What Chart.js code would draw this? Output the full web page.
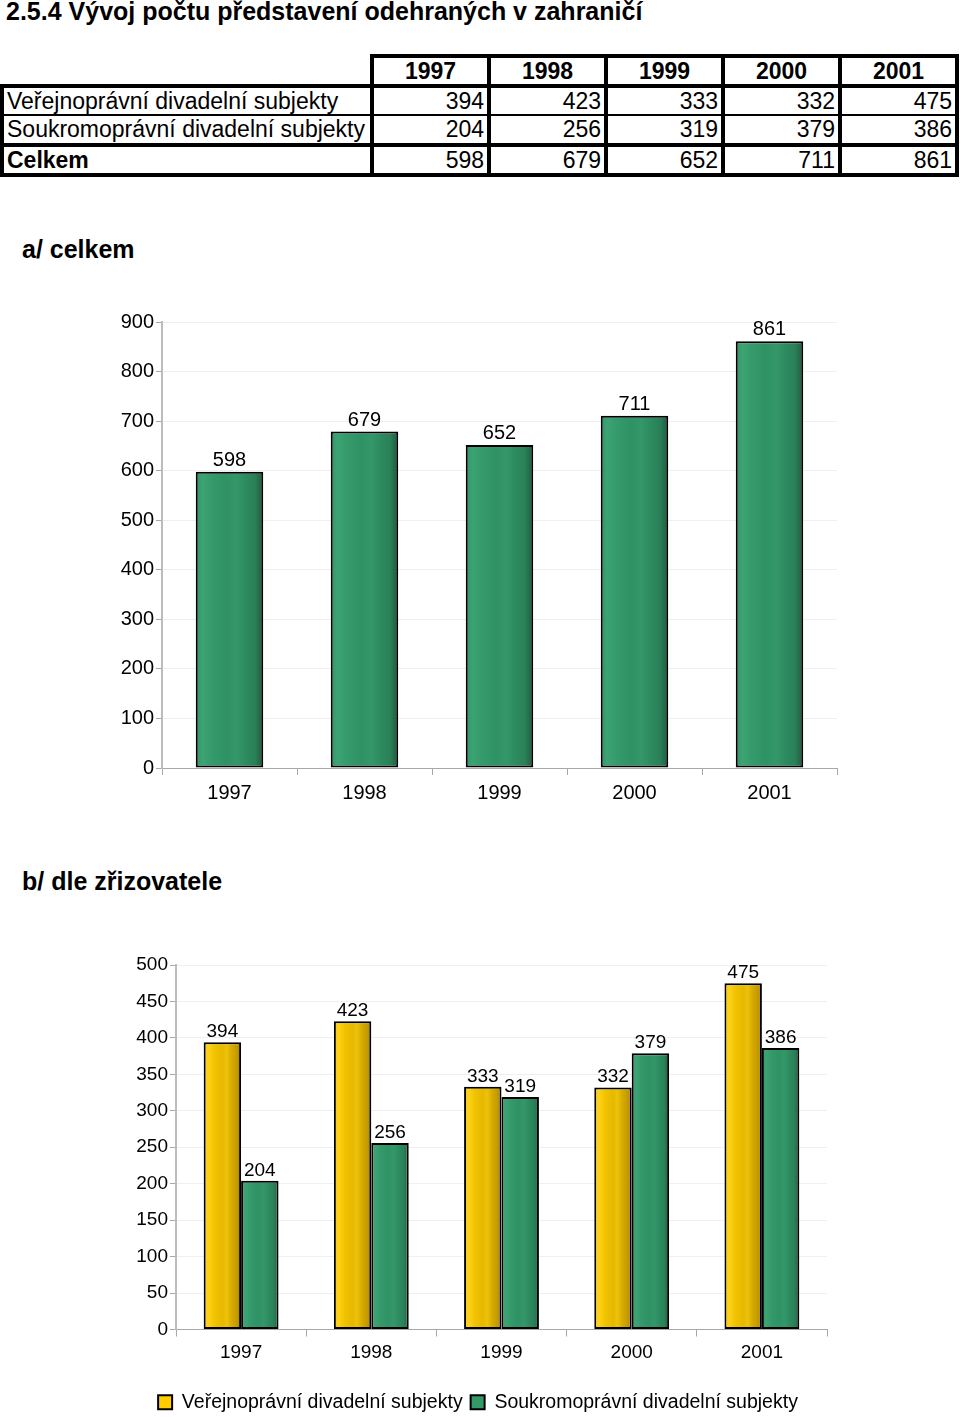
<!DOCTYPE html>
<html>
<head>
<meta charset="utf-8">
<script src="https://cdn.jsdelivr.net/npm/chart.js@4.4.1/dist/chart.umd.min.js"></script>
<style>
  html,body{margin:0;padding:0;background:#fff;}
  body{width:960px;height:1417px;position:relative;overflow:hidden;font-family:'Liberation Sans',Arial,sans-serif;color:#000;}
  #title{position:absolute;left:6px;top:-3px;font-weight:bold;font-size:25px;white-space:nowrap;}
  .head{position:absolute;left:22px;font-weight:bold;font-size:25px;white-space:nowrap;}
  #tbl{position:absolute;left:0px;top:54px;border-collapse:collapse;table-layout:fixed;width:955px;font-size:23px;}
  #tbl td{padding:0 3px;height:26px;line-height:26px;border:4px solid #000;text-align:right;white-space:nowrap;overflow:hidden;}
  #tbl td.lab{text-align:left;padding-left:3px;}
  #tbl tr.h td{text-align:center;font-weight:bold;}
  #tbl tr.h td.blank{border-top:none;border-left:none;}
  #tbl tr.r0 td{border-bottom:2px solid #000;}
  #tbl tr.r1 td{border-top:2px solid #000;height:27px;line-height:27px;}
  #tbl tr.r2 td.lab{font-weight:bold;}
  canvas{position:absolute;left:0;}
</style>
</head>
<body>
<div id="title">2.5.4 Vývoj počtu představení odehraných v zahraničí</div>
<table id="tbl"></table>
<div class="head" style="top:235px;">a/ celkem</div>
<canvas id="c1" width="960" height="520" style="top:300px;"></canvas>
<div class="head" style="top:867px;">b/ dle zřizovatele</div>
<canvas id="c2" width="960" height="482" style="top:940px;"></canvas>
<script>
// ---- data ----
const years = ['1997', '1998', '1999', '2000', '2001'];
const publicVals = [394, 423, 333, 332, 475];
const privateVals = [204, 256, 319, 379, 386];
const totalVals = [598, 679, 652, 711, 861];
const seriesNames = ['Veřejnoprávní divadelní subjekty', 'Soukromoprávní divadelní subjekty'];
const totalName = 'Celkem';
const yTicksTotal = [0, 100, 200, 300, 400, 500, 600, 700, 800, 900];
const yTicksSplit = [0, 50, 100, 150, 200, 250, 300, 350, 400, 450, 500];

// ---- table ----
(function buildTable() {
  const t = document.getElementById('tbl');
  const cg = document.createElement('colgroup');
  const widths = [370, 117, 117, 117, 117, 117];
  widths.forEach(w => { const c = document.createElement('col'); c.style.width = w + 'px'; cg.appendChild(c); });
  t.appendChild(cg);
  const hr = document.createElement('tr'); hr.className = 'h';
  const b = document.createElement('td'); b.className = 'blank'; hr.appendChild(b);
  years.forEach(y => { const td = document.createElement('td'); td.textContent = y; hr.appendChild(td); });
  t.appendChild(hr);
  const rows = [[seriesNames[0], publicVals], [seriesNames[1], privateVals], [totalName, totalVals]];
  rows.forEach(([name, vals], i) => {
    const tr = document.createElement('tr'); tr.className = 'r' + i;
    const l = document.createElement('td'); l.className = 'lab'; l.textContent = name; tr.appendChild(l);
    vals.forEach(v => { const td = document.createElement('td'); td.textContent = v; tr.appendChild(td); });
    t.appendChild(tr);
  });
})();

// ---- styling helpers ----
const FONT = "'Liberation Sans', Arial, sans-serif";
Chart.defaults.font.family = FONT;
Chart.defaults.color = '#000';

const GREEN_STOPS = [[0, '#2f9466'], [0.1, '#3ca473'], [0.25, '#34996b'], [0.45, '#2f9265'], [0.6, '#349769'], [0.75, '#2c8a5e'], [0.88, '#2a8058'], [0.95, '#236a48'], [1, '#1e5a3c']];
const YELLOW_STOPS = [[0, '#f8c800'], [0.12, '#ffd21a'], [0.3, '#f0c200'], [0.5, '#e6b900'], [0.62, '#eec20a'], [0.75, '#d6aa00'], [0.88, '#c69c00'], [0.95, '#b58e00'], [1, '#a07d00']];
const GREEN_SOLID = '#339966';
const YELLOW_SOLID = '#ffcc00';

function barFill(stops, solid, catPct, barPct) {
  return (c) => {
    const chart = c.chart;
    const xs = chart.scales && chart.scales.x;
    if (c.type !== 'data' || !xs || !xs.width) return solid;
    const n = chart.data.labels.length;
    const nd = chart.data.datasets.length;
    const cat = xs.width / n;
    const group = cat * catPct;
    const chunk = group / nd;
    const w = chunk * barPct;
    const center = xs.getPixelForValue(c.dataIndex) - group / 2 + chunk * c.datasetIndex + chunk / 2;
    const g = chart.ctx.createLinearGradient(center - w / 2, 0, center + w / 2, 0);
    stops.forEach(([o, col]) => g.addColorStop(o, col));
    return g;
  };
}

const valueLabels = {
  id: 'valueLabels',
  afterDatasetsDraw(chart, args, opts) {
    const ctx = chart.ctx;
    ctx.save();
    ctx.font = opts.size + 'px ' + FONT;
    ctx.fillStyle = '#000';
    ctx.textAlign = 'center';
    ctx.textBaseline = 'alphabetic';
    chart.data.datasets.forEach((ds, i) => {
      chart.getDatasetMeta(i).data.forEach((el, j) => {
        ctx.fillText(String(ds.data[j]), el.x, el.y - opts.offset);
      });
    });
    ctx.restore();
  }
};

// ---- chart a/ ----
const CAT1 = 1, BAR1 = 0.5;
new Chart(document.getElementById('c1'), {
  type: 'bar',
  data: {
    labels: years,
    datasets: [{
      label: totalName,
      data: totalVals,
      backgroundColor: barFill(GREEN_STOPS, GREEN_SOLID, CAT1, BAR1),
      borderColor: '#000',
      borderWidth: 2,
      borderSkipped: false,
      categoryPercentage: CAT1,
      barPercentage: BAR1
    }]
  },
  options: {
    responsive: false,
    animation: false,
    layout: { padding: { top: 22, right: 123, left: 0, bottom: 0 } },
    plugins: { legend: { display: false }, tooltip: { enabled: false }, valueLabels: { size: 20, offset: 6 } },
    scales: {
      x: {
        grid: { drawOnChartArea: false, tickLength: 7, color: '#a8a8a8' },
        border: { color: '#a8a8a8' },
        ticks: { font: { size: 20 }, color: '#000', padding: 6 },
        afterFit: s => { s.height = 52; }
      },
      y: {
        min: yTicksTotal[0], max: yTicksTotal[yTicksTotal.length - 1],
        afterBuildTicks: s => { s.ticks = yTicksTotal.map(v => ({ value: v })); },
        ticks: { font: { size: 20 }, color: '#000', padding: 2 },
        grid: { color: '#efefef', tickColor: '#a8a8a8', tickLength: 6 },
        border: { color: '#bcbcbc', width: 2 },
        afterFit: s => { s.width = 162; }
      }
    }
  },
  plugins: [valueLabels]
});

// ---- chart b/ ----
const CAT2 = 0.575, BAR2 = 1;
new Chart(document.getElementById('c2'), {
  type: 'bar',
  data: {
    labels: years,
    datasets: [
      { label: seriesNames[0], data: publicVals, backgroundColor: barFill(YELLOW_STOPS, YELLOW_SOLID, CAT2, BAR2),
        borderColor: '#000', borderWidth: 2, borderSkipped: false, categoryPercentage: CAT2, barPercentage: BAR2 },
      { label: seriesNames[1], data: privateVals, backgroundColor: barFill(GREEN_STOPS, GREEN_SOLID, CAT2, BAR2),
        borderColor: '#000', borderWidth: 2, borderSkipped: false, categoryPercentage: CAT2, barPercentage: BAR2 }
    ]
  },
  options: {
    responsive: false,
    animation: false,
    layout: { padding: { top: 25, right: 133, left: 129, bottom: 0 } },
    plugins: {
      tooltip: { enabled: false },
      valueLabels: { size: 19, offset: 5 },
      legend: {
        position: 'bottom',
        labels: {
          font: { size: 19.5 }, color: '#000', boxWidth: 14, boxHeight: 14, padding: 8,
          generateLabels: (chart) => chart.data.datasets.map((ds, i) => ({
            text: ds.label, fillStyle: i === 0 ? YELLOW_SOLID : GREEN_SOLID, strokeStyle: '#000',
            lineWidth: 2, hidden: false, datasetIndex: i, fontColor: '#000'
          }))
        }
      }
    },
    scales: {
      x: {
        grid: { drawOnChartArea: false, tickLength: 7, color: '#a8a8a8' },
        border: { color: '#a8a8a8' },
        ticks: { font: { size: 19 }, color: '#000', padding: 5 },
        afterFit: s => { s.height = 55; }
      },
      y: {
        min: yTicksSplit[0], max: yTicksSplit[yTicksSplit.length - 1],
        afterBuildTicks: s => { s.ticks = yTicksSplit.map(v => ({ value: v })); },
        ticks: { font: { size: 19 }, color: '#000', padding: 2 },
        grid: { color: '#efefef', tickColor: '#a8a8a8', tickLength: 6 },
        border: { color: '#bcbcbc', width: 2 },
        afterFit: s => { s.width = 47; }
      }
    }
  },
  plugins: [valueLabels]
});
</script>
</body>
</html>
